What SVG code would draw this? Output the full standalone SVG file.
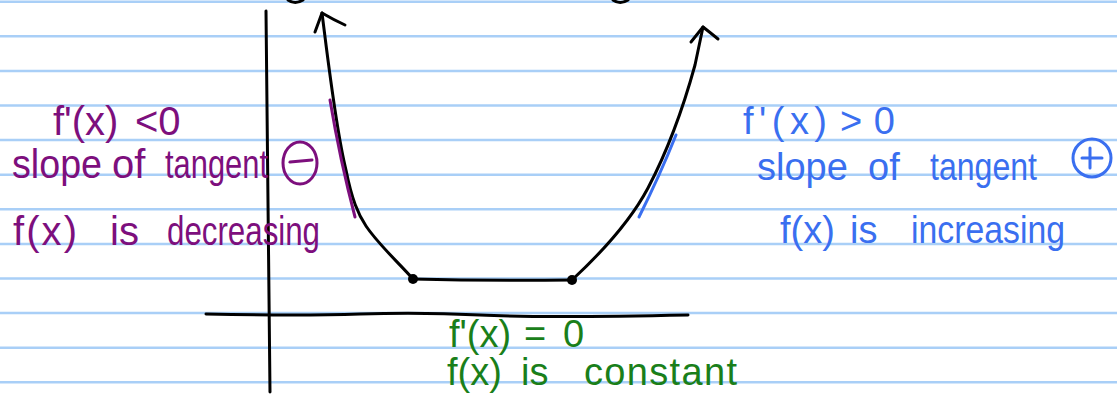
<svg xmlns="http://www.w3.org/2000/svg" width="1117" height="394" viewBox="0 0 1117 394">
  <style>
    .rule { stroke: #a9cff7; stroke-width: 2.5; }
    .ink { fill: none; stroke: #000; stroke-width: 3; stroke-linecap: round; stroke-linejoin: round; }
    .pur { fill: #7d0f7d; }
    .blu { fill: #3a6ff0; }
    .grn { fill: #1a7f1a; }
    .hand { font-family: "Liberation Sans", "DejaVu Sans", sans-serif; }
    .pstroke { fill: none; stroke: #7d0f7d; stroke-width: 3; stroke-linecap: round; }
    .bstroke { fill: none; stroke: #3a6ff0; stroke-width: 3; stroke-linecap: round; }
  </style>
  <rect width="1117" height="394" fill="#fff"/>
  <g id="paper-rules">
    <line class="rule" x1="0" y1="1.7" x2="1117" y2="1.7"/>
    <line class="rule" x1="0" y1="36.3" x2="1117" y2="36.3"/>
    <line class="rule" x1="0" y1="70.9" x2="1117" y2="70.9"/>
    <line class="rule" x1="0" y1="105.5" x2="1117" y2="105.5"/>
    <line class="rule" x1="0" y1="140.1" x2="1117" y2="140.1"/>
    <line class="rule" x1="0" y1="174.7" x2="1117" y2="174.7"/>
    <line class="rule" x1="0" y1="209.3" x2="1117" y2="209.3"/>
    <line class="rule" x1="0" y1="243.9" x2="1117" y2="243.9"/>
    <line class="rule" x1="0" y1="278.5" x2="1117" y2="278.5"/>
    <line class="rule" x1="0" y1="313.1" x2="1117" y2="313.1"/>
    <line class="rule" x1="0" y1="347.7" x2="1117" y2="347.7"/>
    <line class="rule" x1="0" y1="382.3" x2="1117" y2="382.3"/>
  </g>
  <g id="cropped-marks">
    <path class="ink" d="M288,0 Q295,5 303,0"/>
    <path class="ink" d="M613,0 Q620,5 628,0"/>
  </g>
  <g id="axes">
    <path class="ink" d="M266,11 Q268,200 270,392"/>
    <path class="ink" d="M206,314 Q300,316 360,314 T480,315 T688,315"/>
  </g>
  <g id="curve">
    <path class="ink" d="M322,13 C328,60 336,130 346,170 C352,200 358,214 366,226 C378,244 398,262 413,279"/>
    <path class="ink" d="M315,32 L322,13 Q334,20 345,25"/>
    <path class="ink" d="M413,279 Q490,281 572,280"/>
    <path class="ink" d="M572,280 C600,254 630,222 648,188 C668,150 684,105 695,65 L703,27"/>
    <path class="ink" d="M691,42 L703,27 Q712,34 718,39"/>
    <circle cx="413" cy="279" r="5" fill="#000"/>
    <circle cx="572" cy="280" r="5" fill="#000"/>
  </g>
  <g id="tangent-left">
    <path class="pstroke" d="M330,100 Q340,160 355,217"/>
  </g>
  <g id="tangent-right">
    <path class="bstroke" d="M676,135 Q660,175 639,217"/>
  </g>
  <g id="label-decreasing" class="hand pur" font-size="40">
    <text x="53" y="135">f'(x)</text>
    <text x="135" y="135">&lt;0</text>
    <text x="12" y="178" textLength="90" lengthAdjust="spacingAndGlyphs">slope</text>
    <text x="112" y="178">of</text>
    <text x="165" y="178" textLength="103" lengthAdjust="spacingAndGlyphs">tangent</text>
    <text x="13" y="245" textLength="64" lengthAdjust="spacing">f(x)</text>
    <text x="110" y="245">is</text>
    <text x="167" y="245" textLength="153" lengthAdjust="spacingAndGlyphs">decreasing</text>
    <ellipse class="pstroke" cx="300" cy="163" rx="17" ry="21"/>
    <line class="pstroke" x1="290" y1="162" x2="312" y2="160"/>
  </g>
  <g id="label-increasing" class="hand blu" font-size="38">
    <text x="743" y="134" textLength="84" lengthAdjust="spacing">f'(x)</text>
    <text x="840" y="134" textLength="55" lengthAdjust="spacing">&gt;0</text>
    <text x="757" y="180">slope</text>
    <text x="868" y="180">of</text>
    <text x="930" y="180" textLength="107" lengthAdjust="spacingAndGlyphs">tangent</text>
    <text x="780" y="243">f(x)</text>
    <text x="850" y="243">is</text>
    <text x="911" y="243" textLength="154" lengthAdjust="spacingAndGlyphs">increasing</text>
    <circle class="bstroke" cx="1092" cy="158" r="19"/>
    <line class="bstroke" x1="1082" y1="158" x2="1102" y2="158"/>
    <line class="bstroke" x1="1090" y1="148" x2="1090" y2="168"/>
  </g>
  <g id="label-constant" class="hand grn" font-size="38">
    <text x="449" y="347">f'(x)</text>
    <text x="524" y="347">=</text>
    <text x="563" y="347">0</text>
    <text x="447" y="385">f(x)</text>
    <text x="521" y="385">is</text>
    <text x="584" y="385" textLength="153" lengthAdjust="spacing">constant</text>
  </g>
</svg>
